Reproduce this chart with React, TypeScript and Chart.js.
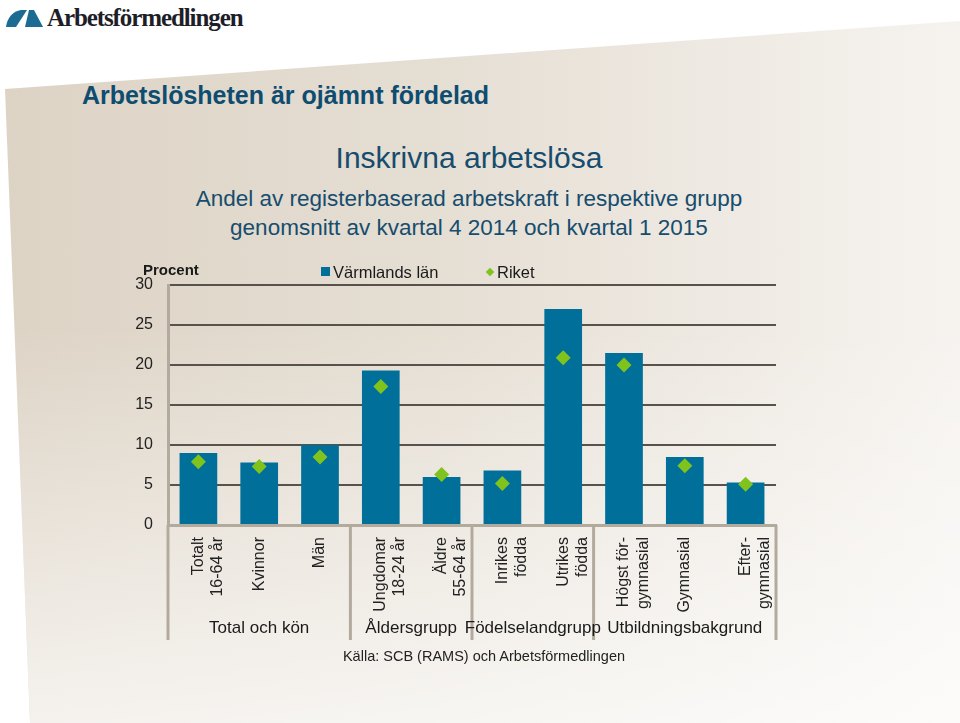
import React, { useEffect, useRef } from "react";
import { Chart, registerables } from "chart.js";

Chart.register(...registerables);

const categories: (string | string[])[] = [
  ["Totalt", "16-64 år"],
  "Kvinnor",
  "Män",
  ["Ungdomar", "18-24 år"],
  ["Äldre", "55-64 år"],
  ["Inrikes", "födda"],
  ["Utrikes", "födda"],
  ["Högst för-", "gymnasial"],
  "Gymnasial",
  ["Efter-", "gymnasial"],
];
const varmlandValues = [9.0, 7.8, 10.0, 19.3, 6.0, 6.8, 27.0, 21.5, 8.5, 5.3];
const riketValues = [7.9, 7.3, 8.5, 17.3, 6.3, 5.2, 20.9, 20.0, 7.4, 5.1];
const groupLabels = ["Total och kön", "Åldersgrupp", "Födelselandgrupp", "Utbildningsbakgrund"];
const groupSizes = [3, 2, 2, 3];
const yMin = 0;
const yMax = 30;
const yStep = 5;

const BAR_COLOR = "#00709a";
const DIAMOND_COLOR = "#7fc31c";
const FONT = "'Liberation Sans', Arial, sans-serif";

const groupPlugin = {
  id: "groupPlugin",
  afterDraw(chart: any) {
    const { ctx, chartArea } = chart;
    const xs = chart.scales.x;
    const { left, right, bottom } = chartArea;
    const bounds: number[] = [left];
    let idx = 0;
    groupSizes.forEach((n) => {
      idx += n;
      if (idx >= categories.length) bounds.push(right);
      else bounds.push((xs.getPixelForValue(idx - 1) + xs.getPixelForValue(idx)) / 2);
    });
    ctx.save();
    ctx.strokeStyle = "#b3aa9e";
    ctx.lineWidth = 3;
    bounds.forEach((b) => {
      ctx.beginPath();
      ctx.moveTo(b, bottom);
      ctx.lineTo(b, bottom + 115);
      ctx.stroke();
    });
    ctx.fillStyle = "#1a1a1a";
    ctx.font = `17px ${FONT}`;
    ctx.textAlign = "center";
    ctx.textBaseline = "middle";
    groupLabels.forEach((g, i) => {
      ctx.fillText(g, (bounds[i] + bounds[i + 1]) / 2, bottom + 103);
    });
    ctx.restore();
  },
};

function Logo() {
  return (
    <div style={{ position: "absolute", left: 5, top: 3, height: 30, display: "flex", alignItems: "center" }}>
      <svg width="40" height="24" viewBox="0 0 40 24" style={{ marginRight: 2 }}>
        <path d="M1 21 C2 12 8 5 16 4 L22 4 L11 21 Z" fill="#1b6b93" />
        <path d="M24 4 L29 4 L38 21 L20 21 Z" fill="#1b6b93" />
      </svg>
      <span
        style={{
          fontFamily: "'Liberation Serif', 'DejaVu Serif', serif",
          fontWeight: "bold",
          fontSize: 25,
          color: "#1e1e28",
          letterSpacing: -1.1,
        }}
      >
        Arbetsförmedlingen
      </span>
    </div>
  );
}

export default function App() {
  const canvasRef = useRef<HTMLCanvasElement | null>(null);

  useEffect(() => {
    if (!canvasRef.current) return;
    const chart = new Chart(canvasRef.current, {
      type: "bar",
      data: {
        labels: categories as any,
        datasets: [
          {
            type: "line" as any,
            label: "Riket",
            data: riketValues,
            showLine: false,
            pointStyle: "rectRot",
            pointRadius: 7.5,
            pointBackgroundColor: DIAMOND_COLOR,
            pointBorderColor: DIAMOND_COLOR,
            pointBorderWidth: 0,
            order: 0,
          } as any,
          {
            type: "bar",
            label: "Värmlands län",
            data: varmlandValues,
            backgroundColor: BAR_COLOR,
            barPercentage: 0.62,
            categoryPercentage: 1,
            order: 1,
          },
        ],
      },
      options: {
        responsive: false,
        animation: false,
        layout: { padding: { left: 100, right: 184, top: 285, bottom: 83 } },
        font: { family: FONT } as any,
        plugins: {
          legend: { display: false },
          title: { display: false },
          tooltip: { enabled: false },
        },
        scales: {
          x: {
            grid: { display: false },
            border: { display: true, color: "#b3aa9e", width: 3 },
            ticks: {
              color: "#222",
              font: { family: FONT, size: 16, lineHeight: 1.2 },
              minRotation: 90,
              maxRotation: 90,
              autoSkip: false,
              padding: 4,
            },
            afterFit: (scale: any) => {
              scale.height = 115;
            },
          },
          y: {
            min: yMin,
            max: yMax,
            ticks: {
              stepSize: yStep,
              color: "#222",
              font: { family: FONT, size: 16 },
              padding: 15,
            },
            grid: {
              color: (c: any) => (c.tick && c.tick.value === 0 ? "rgba(0,0,0,0)" : "#57524c"),
              lineWidth: 2,
              drawTicks: false,
            },
            border: { display: true, color: "#b3aa9e", width: 3 },
            afterFit: (scale: any) => {
              scale.width = 68;
            },
          },
        },
      },
      plugins: [groupPlugin],
    });
    return () => chart.destroy();
  }, []);

  const centerLine = (text: string, top: number, size: number, lh: number) => (
    <div
      style={{
        position: "absolute",
        left: 0,
        width: 938,
        top,
        textAlign: "center",
        fontSize: size,
        lineHeight: `${lh}px`,
        color: "#164d6e",
        whiteSpace: "nowrap",
      }}
    >
      {text}
    </div>
  );

  return (
    <div
      style={{
        position: "fixed",
        left: 0,
        top: 0,
        width: 960,
        height: 723,
        overflow: "hidden",
        background: "#ffffff",
        fontFamily: FONT,
      }}
    >
      <div
        style={{
          position: "absolute",
          left: 0,
          top: 0,
          width: 960,
          height: 723,
          clipPath: "polygon(5px 89px, 960px 21px, 960px 723px, 30px 723px)",
          background:
            "linear-gradient(to bottom, rgba(255,255,255,0) 45%, rgba(255,255,255,0.7) 100%), linear-gradient(to right, #ddd3c5 0%, #e5ded3 45%, #eee9e2 75%, #f6f3ef 100%)",
        }}
      />
      <Logo />
      <div
        style={{
          position: "absolute",
          left: 82,
          top: 80,
          fontSize: 25,
          fontWeight: "bold",
          lineHeight: "30px",
          color: "#0f4d70",
          whiteSpace: "nowrap",
        }}
      >
        Arbetslösheten är ojämnt fördelad
      </div>
      {centerLine("Inskrivna arbetslösa", 140, 30, 36)}
      {centerLine("Andel av registerbaserad arbetskraft i respektive grupp", 186, 22.5, 26)}
      {centerLine("genomsnitt av kvartal 4 2014 och kvartal 1 2015", 215, 22.5, 26)}
      <canvas
        ref={canvasRef}
        width={960}
        height={723}
        style={{ position: "absolute", left: 0, top: 0, width: 960, height: 723 }}
      />
      <div
        style={{
          position: "absolute",
          left: 143,
          top: 261,
          fontSize: 15,
          fontWeight: "bold",
          lineHeight: "17px",
          color: "#1a1a1a",
        }}
      >
        Procent
      </div>
      <div style={{ position: "absolute", left: 321, top: 267, width: 9, height: 9, background: BAR_COLOR }} />
      <div
        style={{ position: "absolute", left: 333, top: 263, fontSize: 16.5, lineHeight: "18px", color: "#1a1a1a" }}
      >
        Värmlands län
      </div>
      <div
        style={{
          position: "absolute",
          left: 487,
          top: 269,
          width: 6,
          height: 6,
          background: DIAMOND_COLOR,
          transform: "rotate(45deg)",
        }}
      />
      <div
        style={{ position: "absolute", left: 497, top: 263, fontSize: 16.5, lineHeight: "18px", color: "#1a1a1a" }}
      >
        Riket
      </div>
      <div
        style={{
          position: "absolute",
          left: 0,
          width: 968,
          top: 648,
          textAlign: "center",
          fontSize: 14.5,
          lineHeight: "16px",
          color: "#222",
          whiteSpace: "nowrap",
        }}
      >
        Källa: SCB (RAMS) och Arbetsförmedlingen
      </div>
    </div>
  );
}
